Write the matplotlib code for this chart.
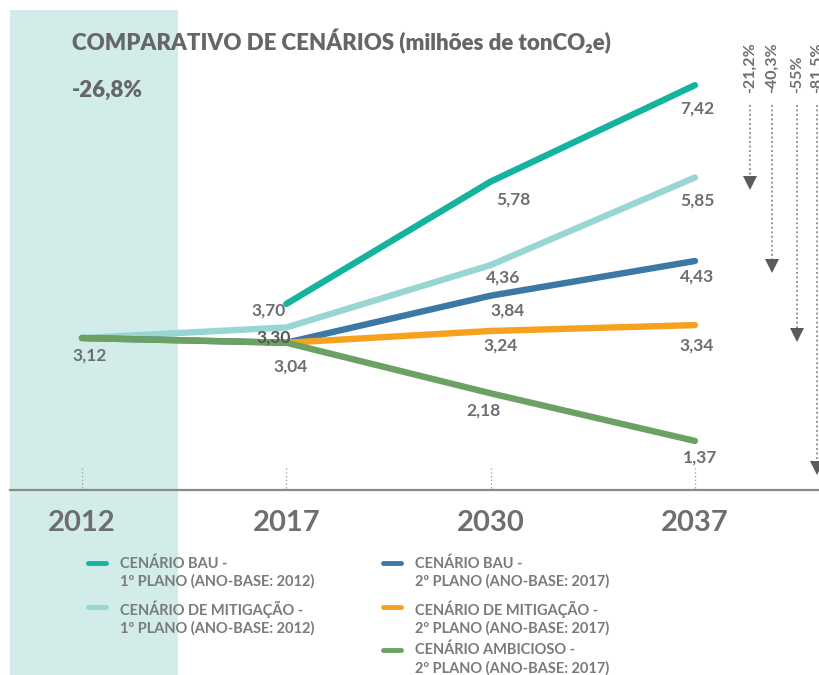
import numpy as np
import matplotlib
matplotlib.use("Agg")
import matplotlib.pyplot as plt
from matplotlib.lines import Line2D
from matplotlib.patches import Rectangle

# dados (milhões de tonCO2e)
years = ["2012", "2017", "2030", "2037"]
bau_1 = [np.nan, 3.70, 5.78, 7.42]
mit_1 = [3.12, 3.30, 4.36, 5.85]
bau_2 = [3.12, 3.04, 3.84, 4.43]
mit_2 = [np.nan, 3.04, 3.24, 3.34]
amb_2 = [3.12, 3.04, 2.18, 1.37]

reductions = ["-21,2%", "-40,3%", "-55%", "-81,5%"]

legend_labels = [
    "CENÁRIO BAU -\n1º PLANO (ANO-BASE: 2012)",
    "CENÁRIO DE MITIGAÇÃO -\n1º PLANO (ANO-BASE: 2012)",
    "CENÁRIO BAU -\n2º PLANO (ANO-BASE: 2017)",
    "CENÁRIO DE MITIGAÇÃO -\n2º PLANO (ANO-BASE: 2017)",
    "CENÁRIO AMBICIOSO -\n2º PLANO (ANO-BASE: 2017)",
]

C_BAU1 = "#14b3a0"
C_MIT1 = "#98d6d4"
C_BAU2 = "#3b78a6"
C_MIT2 = "#f6a21f"
C_AMB = "#6ba263"
GRAY = "#6d6e71"
BAND = "#d2ecea"

FONT = ["Lato", "DejaVu Sans"]

fig = plt.figure(figsize=(8.19, 6.75), dpi=100)
ax = fig.add_axes([0, 0, 1, 1])
ax.set_xlim(-0.401, 3.607)
ax.set_ylim(-2.61, 8.868)
ax.axis("off")

x = np.arange(len(years))

# faixa do ano-base
ax.add_patch(Rectangle((-0.352, -2.7), 0.822, 11.4, color=BAND, zorder=0, lw=0))

# eixo e marcas
ax.axhline(0.535, xmin=0.012, xmax=1, color="#8a8a8a", lw=1.6, zorder=1)
for xi in x:
    ax.plot([xi, xi], [0.57, 0.91], color="#999999", lw=0.9, ls=(0, (1, 2)), zorder=1)
    ax.text(xi, -0.03, years[xi], ha="center", va="center", fontsize=21,
            fontweight="bold", color=GRAY, family=FONT)

# linhas
series = [(bau_1, C_BAU1), (mit_1, C_MIT1), (bau_2, C_BAU2), (mit_2, C_MIT2), (amb_2, C_AMB)]
for vals, col in series:
    ax.plot(x, vals, color=col, lw=4.6, solid_capstyle="round",
            solid_joinstyle="round", zorder=3)

# rótulos de valores: (série, índice, dx, dy) em pixels
labels = [
    (mit_1, 0, 8, -17), (bau_1, 1, -18, -7), (mit_1, 1, -13, -10),
    (bau_2, 1, 4, -24), (bau_1, 2, 23, -18), (mit_1, 2, 13, -12),
    (bau_2, 2, 17, -15), (mit_2, 2, 10, -15), (amb_2, 2, -7, -17),
    (bau_1, 3, 2, -23), (mit_1, 3, 2, -23), (bau_2, 3, 2, -16),
    (mit_2, 3, 2, -20), (amb_2, 3, 5, -17),
]
for vals, i, dx, dy in labels:
    txt = f"{vals[i]:.2f}".replace(".", ",")
    col = "#555555" if (vals is mit_1 and i == 1) else GRAY
    ax.annotate(txt, (x[i], vals[i]), xytext=(dx, dy), textcoords="offset pixels",
                ha="center", va="center", fontsize=12.5, fontweight="bold",
                color=col, family=FONT, zorder=5)

# setas de redução
arrow_x = [3.270, 3.377, 3.500, 3.598]
targets = [mit_1[3], bau_2[3], mit_2[3], amb_2[3]]
drops = [0.21, 0.20, 0.29, 0.58]
for ax_x, tgt, drop, lab in zip(arrow_x, targets, drops, reductions):
    tip = tgt - drop
    ax.plot([ax_x, ax_x], [7.08, tip + 0.2], color="#8a8a8a", lw=1.3,
            ls=(0, (1, 1.5)), zorder=2)
    ax.plot(ax_x, tip + 0.12, marker="v", ms=10, color="#5a5a5a", mew=0, zorder=2)
    ax.text(ax_x, 7.29, lab, rotation=90, ha="center", va="bottom",
            fontsize=11.5, fontweight="bold", color=GRAY, family=FONT)

# títulos
fig.text(72 / 819, 1 - 42 / 675, "COMPARATIVO DE CENÁRIOS (milhões de tonCO₂e)",
         ha="left", va="center", fontsize=16, fontweight="heavy", color="#666666",
         family=FONT)
fig.text(72 / 819, 1 - 90 / 675, "-26,8%", ha="left", va="center", fontsize=16,
         fontweight="heavy", color="#666666", family=FONT)

# legenda
colors = [C_BAU1, C_MIT1, C_BAU2, C_MIT2, C_AMB]
pos = [(88, 563), (88, 607), (383, 563), (383, 607), (383, 650)]
for (px, py), col, lab in zip(pos, colors, legend_labels):
    fig.add_artist(Line2D([px / 819, (px + 18) / 819], [1 - py / 675] * 2,
                          color=col, lw=3.5, solid_capstyle="round"))
    fig.text((px + 32) / 819, 1 - (py - 7) / 675, lab, ha="left", va="top",
             fontsize=10.5, fontweight="bold", color="#7a7a7a", family=FONT,
             linespacing=1.3)

fig.savefig("out.png", dpi=100)
